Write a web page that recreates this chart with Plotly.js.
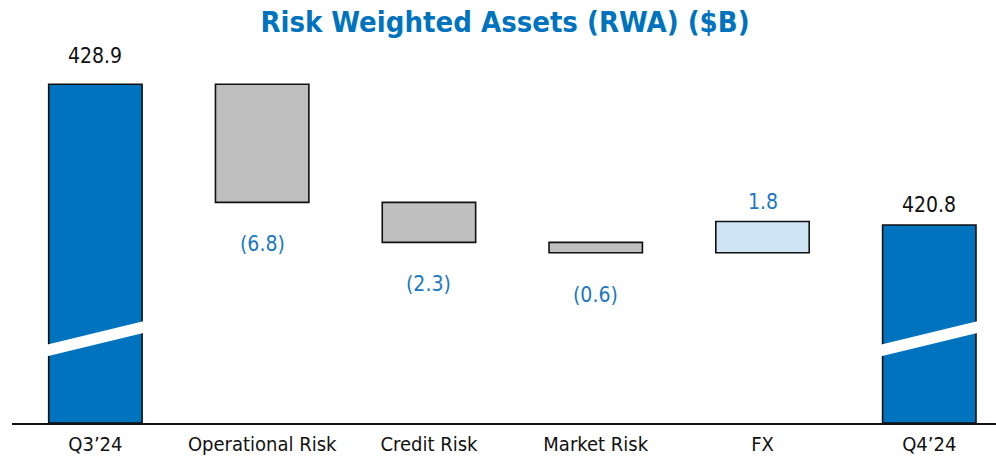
<!DOCTYPE html>
<html>
<head>
<meta charset="utf-8">
<script src="https://cdn.plot.ly/plotly-3.0.1.min.js"></script>
<style>html,body{margin:0;padding:0;background:#fff;}#chart{width:996px;height:459px;}</style>
</head>
<body>
<div id="chart"></div>
<script>
// ---- data ----
const categories = ["Q3\u201924", "Operational Risk", "Credit Risk", "Market Risk", "FX", "Q4\u201924"];
const startValue = 428.9;
const changeCategories = ["Operational Risk", "Credit Risk", "Market Risk", "FX"];
const changeValues = [-6.8, -2.3, -0.6, 1.8];
const endValue = 420.8;
const valueLabels = ["428.9", "(6.8)", "(2.3)", "(0.6)", "1.8", "420.8"];

// ---- styling / layout ----
const FONT = "'DejaVu Sans Condensed', 'Liberation Sans Narrow', sans-serif";
const BLUE = "#0073BE";
const LABEL_BLUE = "#1A78C2";
const axisMin = 409.4, axisMax = 430.3;
const barWidth = 0.56;

// running bases for change bars
let run = startValue;
const changeBases = [];
changeValues.forEach(v => { changeBases.push(run); run += v; });

const totalsTrace = {
  type: "bar",
  x: [categories[0], categories[5]],
  y: [startValue - axisMin, endValue - axisMin],
  base: [axisMin, axisMin],
  width: barWidth,
  marker: {color: BLUE, line: {color: "#111", width: 1.6}},
  hoverinfo: "skip"
};
const decTrace = {
  type: "bar",
  x: changeCategories.filter((c, i) => changeValues[i] < 0),
  y: changeValues.filter(v => v < 0),
  base: changeBases.filter((b, i) => changeValues[i] < 0),
  width: barWidth,
  marker: {color: "#BFBFBF", line: {color: "#111", width: 1.6}},
  hoverinfo: "skip"
};
const incTrace = {
  type: "bar",
  x: changeCategories.filter((c, i) => changeValues[i] > 0),
  y: changeValues.filter(v => v > 0),
  base: changeBases.filter((b, i) => changeValues[i] > 0),
  width: barWidth,
  marker: {color: "#CFE4F4", line: {color: "#111", width: 1.6}},
  hoverinfo: "skip"
};

// annotations for value labels
const annotations = [];
annotations.push({x: categories[0], y: startValue, text: valueLabels[0], showarrow: false,
  yanchor: "bottom", yshift: 14, font: {family: FONT, size: 21, color: "#111"}});
changeValues.forEach((v, i) => {
  const top = Math.max(changeBases[i], changeBases[i] + v);
  const bot = Math.min(changeBases[i], changeBases[i] + v);
  if (v < 0) {
    annotations.push({x: changeCategories[i], y: bot, text: valueLabels[i + 1], showarrow: false,
      yanchor: "top", yshift: -28, font: {family: FONT, size: 21, color: LABEL_BLUE}});
  } else {
    annotations.push({x: changeCategories[i], y: top, text: valueLabels[i + 1], showarrow: false,
      yanchor: "bottom", yshift: 6, font: {family: FONT, size: 21, color: LABEL_BLUE}});
  }
});
annotations.push({x: categories[5], y: endValue, text: valueLabels[5], showarrow: false,
  yanchor: "bottom", yshift: 6, font: {family: FONT, size: 21, color: "#111"}});

// axis-break bands (white slanted stripes) on the total bars
const breakLeft = 413.55, breakRight = 414.95, breakHalf = 0.34;
function breakPath(xc) {
  const x0 = xc - barWidth / 2 - 0.02, x1 = xc + barWidth / 2 + 0.02;
  return `M ${x0} ${breakLeft - breakHalf} L ${x1} ${breakRight - breakHalf} L ${x1} ${breakRight + breakHalf} L ${x0} ${breakLeft + breakHalf} Z`;
}
const shapes = [0, 5].map(i => ({
  type: "path", xref: "x", yref: "y", path: breakPath(i),
  fillcolor: "#ffffff", line: {width: 0}, layer: "above"
}));

const layout = {
  width: 996, height: 459,
  margin: {l: 12, r: 0, t: 60, b: 36},
  paper_bgcolor: "#fff", plot_bgcolor: "#fff",
  showlegend: false,
  barmode: "overlay",
  title: {text: "<b>Risk Weighted Assets (RWA) ($B)</b>", x: 0.507, xanchor: "center", y: 0.975, yanchor: "top",
    font: {family: FONT, size: 29, color: BLUE}},
  xaxis: {type: "category", categoryarray: categories, categoryorder: "array",
    range: [-0.5, 5.4], showgrid: false, zeroline: false,
    showline: true, linecolor: "#111", linewidth: 1.6,
    ticks: "", ticklabelstandoff: 2,
    tickfont: {family: FONT, size: 20, color: "#111"}},
  yaxis: {range: [axisMin, axisMax], visible: false, showgrid: false, zeroline: false},
  annotations: annotations,
  shapes: shapes
};

Plotly.newPlot("chart", [totalsTrace, decTrace, incTrace], layout, {displayModeBar: false, staticPlot: true});
</script>
</body>
</html>
